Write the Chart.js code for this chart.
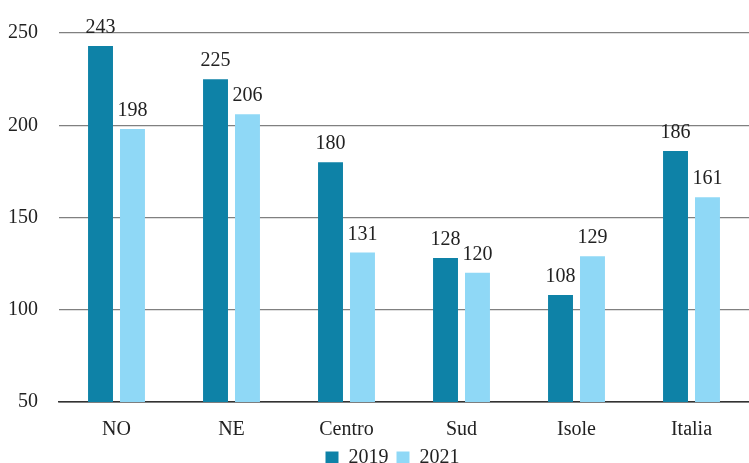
<!DOCTYPE html>
<html><head><meta charset="utf-8">
<script src="https://cdn.jsdelivr.net/npm/chart.js@4"></script>
<style>html,body{margin:0;padding:0;background:#fff}#w{width:749px;height:463px}</style>
</head><body><div id="w"><canvas id="c"></canvas></div>
<script>
const categories = ["NO","NE","Centro","Sud","Isole","Italia"];
const values2019 = [243,225,180,128,108,186];
const values2021 = [198,206,131,120,129,161];
const yTicks = [50,100,150,200,250];
const FONT = "'Liberation Serif', 'DejaVu Serif', serif";

const labelPlugin = {
  id:'vlabels',
  afterDatasetsDraw(chart){
    const ctx = chart.ctx;
    ctx.save();
    ctx.font = "20px " + FONT;
    ctx.fillStyle = '#222';
    ctx.textAlign = 'center';
    ctx.textBaseline = 'alphabetic';
    chart.data.datasets.forEach((ds,i)=>{
      chart.getDatasetMeta(i).data.forEach((bar,j)=>{
        ctx.fillText(String(ds.data[j]), bar.x, bar.y - 13);
      });
    });
    ctx.restore();
  }
};

const legendShift = {
  id:'legendShift',
  afterLayout(chart){
    if (chart.legend) { chart.legend.left += 14; chart.legend.right += 14; }
  }
};

new Chart(document.getElementById('c'),{
  type:'bar',
  data:{labels:categories,datasets:[
    {label:'2019',data:values2019,backgroundColor:'#0e82a7',categoryPercentage:0.556,barPercentage:0.78},
    {label:'2021',data:values2021,backgroundColor:'#8fd8f6',categoryPercentage:0.556,barPercentage:0.78}
  ]},
  options:{
    responsive:true,maintainAspectRatio:false,animation:false,
    layout:{padding:{top:29,right:0,left:8,bottom:-15}},
    plugins:{
      legend:{position:'bottom',labels:{font:{family:FONT,size:20},color:'#222',boxWidth:13,boxHeight:13,padding:8}},
      tooltip:{enabled:false}
    },
    scales:{
      x:{grid:{display:false},border:{display:true,color:'#333',width:1.5},
         afterFit(ax){ax.height=ax.height-10;},
         ticks:{font:{family:FONT,size:20},color:'#222',padding:8}},
      y:{min:50,max:250,afterBuildTicks(ax){ax.ticks=yTicks.map(v=>({value:v}));},
         afterFit(ax){ax.width=51;},
         border:{display:false},
         grid:{drawTicks:false,color:(c)=>c.tick && c.tick.value===50?'#333':'#808080',lineWidth:1.3},
         ticks:{font:{family:FONT,size:20},color:'#222',padding:21}}
    }
  },
  plugins:[labelPlugin, legendShift]
});
</script></body></html>
